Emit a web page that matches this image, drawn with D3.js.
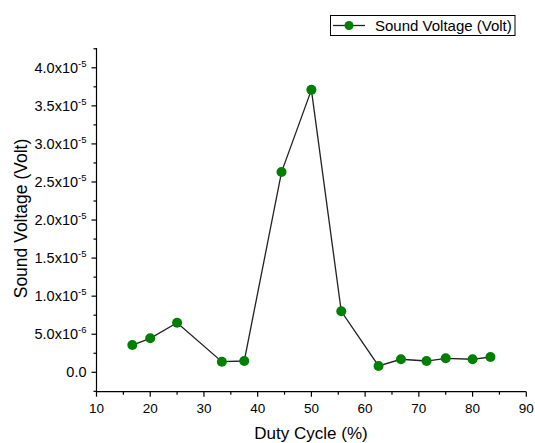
<!DOCTYPE html>
<html><head><meta charset="utf-8">
<script src="https://cdn.jsdelivr.net/npm/d3@7"></script>
<style>body{margin:0;background:#fff}text{font-family:Arial,"Liberation Sans",sans-serif;fill:#000}</style>
</head><body>
<svg id="c" width="535" height="443"></svg>
<script>
const dutyCycle = [16.67, 20, 25, 33.33, 37.5, 44.44, 50, 55.56, 62.5, 66.67, 71.43, 75, 80, 83.33];
const soundVoltage = [3.58e-6, 4.46e-6, 6.51e-6, 1.39e-6, 1.48e-6, 2.63e-5, 3.71e-5, 8.01e-6, 0.83e-6, 1.71e-6, 1.48e-6, 1.84e-6, 1.71e-6, 2.01e-6];
const xTicks = [10, 20, 30, 40, 50, 60, 70, 80, 90];
const yTicks = [0, 5e-6, 1e-5, 1.5e-5, 2e-5, 2.5e-5, 3e-5, 3.5e-5, 4e-5];
const yTickMantissa = ["0.0", "5.0", "1.0", "1.5", "2.0", "2.5", "3.0", "3.5", "4.0"];
const yTickExp = ["", "-6", "-5", "-5", "-5", "-5", "-5", "-5", "-5"];
const seriesName = "Sound Voltage (Volt)";

const svg = d3.select("#c");
const x = d3.scaleLinear().domain([10, 90]).range([96.5, 526.3]);
const y = d3.scaleLinear().domain([-2.55e-6, 4.26e-5]).range([391.7, 48]);

// x axis
const xg = svg.append("g").attr("transform", `translate(0,${y.range()[0]})`);
xg.append("line").attr("x1", x.range()[0]).attr("x2", x.range()[1]).attr("stroke", "#000").attr("stroke-width", 1.2);
const xMinor = d3.range(10, 90.01, 5);
xg.selectAll(".xm").data(xMinor).join("line")
  .attr("x1", d => x(d)).attr("x2", d => x(d)).attr("y1", 0)
  .attr("y2", d => (d % 10 === 0 ? 5 : 3)).attr("stroke", "#000").attr("stroke-width", 1.2);
xg.selectAll(".xl").data(xTicks).join("text")
  .attr("x", d => x(d)).attr("y", 21.5).attr("text-anchor", "middle")
  .attr("font-size", 13.5).text(d => d);

// y axis
const yg = svg.append("g").attr("transform", `translate(${x.range()[0]},0)`);
yg.append("line").attr("y1", y.range()[0]).attr("y2", y.range()[1]).attr("stroke", "#000").attr("stroke-width", 1.2);
const yMinor = d3.range(-2.5e-6, 4.26e-5, 2.5e-6);
yg.selectAll(".ym").data(yMinor).join("line")
  .attr("y1", d => y(d)).attr("y2", d => y(d)).attr("x1", 0)
  .attr("x2", (d, i) => (i % 2 === 1 ? -5 : -3)).attr("stroke", "#000").attr("stroke-width", 1.2);
const yl = yg.selectAll(".yl").data(yTicks).join("text")
  .attr("x", -10).attr("y", d => y(d) + 5).attr("text-anchor", "end").attr("font-size", 14.5);
yl.each(function(d, i) {
  const t = d3.select(this);
  if (yTickExp[i] === "") { t.text(yTickMantissa[i]); return; }
  t.append("tspan").text(yTickMantissa[i] + "x10");
  t.append("tspan").attr("dy", -6).attr("font-size", 9.5).text(yTickExp[i]);
});

// titles
svg.append("text").attr("x", 311).attr("y", 438.5).attr("text-anchor", "middle").attr("font-size", 17).text("Duty Cycle (%)");
svg.append("text").attr("transform", "translate(27,218.5) rotate(-90)").attr("text-anchor", "middle").attr("font-size", 17.5).text("Sound Voltage (Volt)");

// series
const pts = dutyCycle.map((d, i) => [d, soundVoltage[i]]);
svg.append("path").datum(pts)
  .attr("d", d3.line().x(d => x(d[0])).y(d => y(d[1])))
  .attr("fill", "none").attr("stroke", "#222").attr("stroke-width", 1.3);
svg.selectAll(".pt").data(pts).join("circle")
  .attr("cx", d => x(d[0])).attr("cy", d => y(d[1])).attr("r", 5)
  .attr("fill", "#008000");

// legend
const lg = svg.append("g");
lg.append("rect").attr("x", 330.5).attr("y", 15.5).attr("width", 184.5).attr("height", 20)
  .attr("fill", "#fff").attr("stroke", "#000").attr("stroke-width", 1);
lg.append("line").attr("x1", 333).attr("x2", 365).attr("y1", 25.5).attr("y2", 25.5).attr("stroke", "#222").attr("stroke-width", 1.3);
lg.append("circle").attr("cx", 349).attr("cy", 25.5).attr("r", 4.5).attr("fill", "#008000");
lg.append("text").attr("x", 375).attr("y", 30.5).attr("font-size", 15).text(seriesName);
</script>
</body></html>
